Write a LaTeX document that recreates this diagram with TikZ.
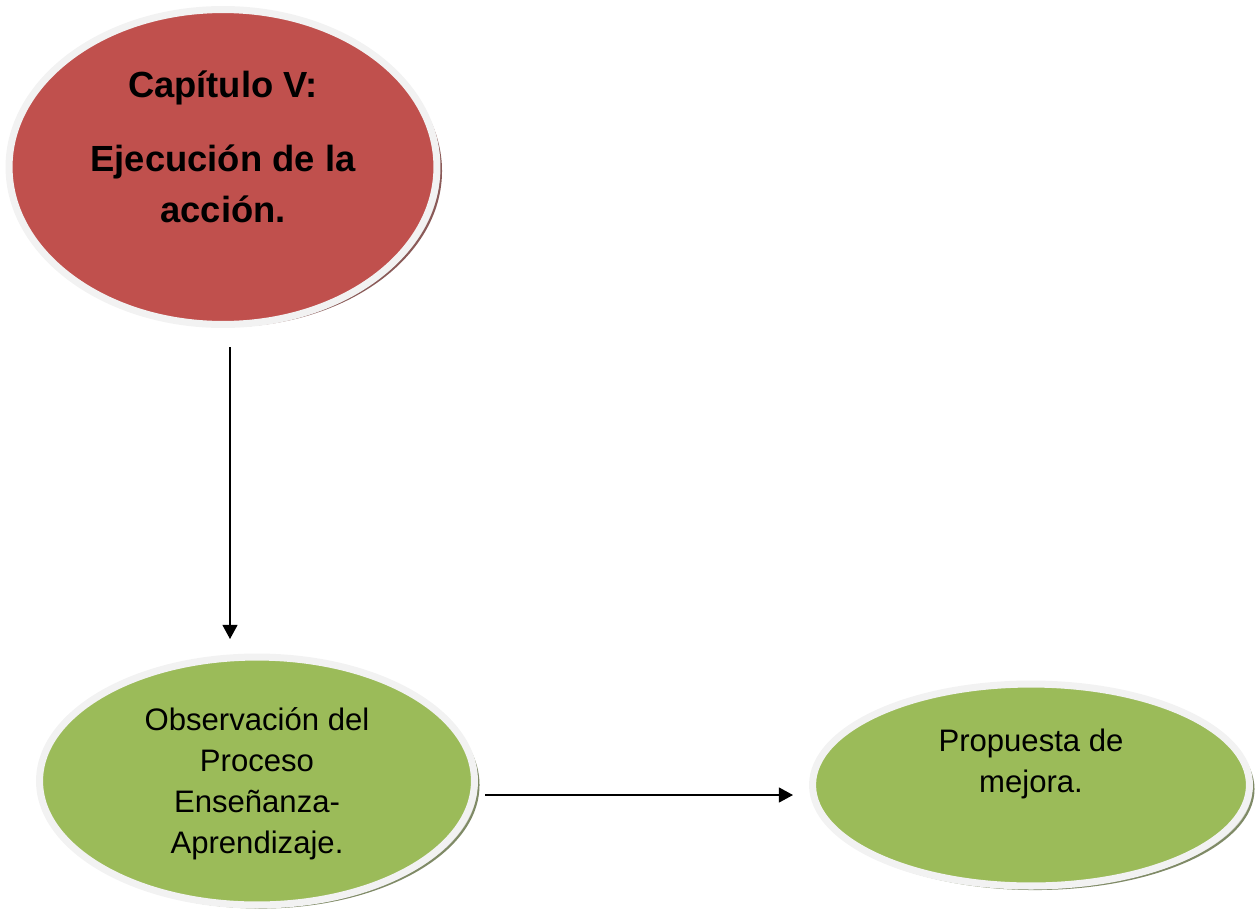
\documentclass[tikz,border=0pt]{standalone}
\usepackage{fontspec}
\setmainfont{Liberation Sans}
\usetikzlibrary{shapes.geometric,arrows.meta}
\definecolor{redfill}{HTML}{C0504D}
\definecolor{greenfill}{HTML}{9BBB59}
\definecolor{rim}{HTML}{F2F2F2}
\definecolor{redshadow}{HTML}{8A5A58}
\definecolor{greenshadow}{HTML}{7F8A66}
\tikzset{
  bubble/.style={ellipse, inner sep=0pt, draw=rim, line width=4pt},
  shadowbubble/.style={ellipse, inner sep=0pt, draw=#1, line width=1.2pt, fill=#1!40},
  redtext/.style={align=center, inner sep=0pt, font=\fontsize{20.7}{28.5}\selectfont\bfseries},
  greentext/.style={align=center, inner sep=0pt, font=\fontsize{17.7}{23.3}\selectfont},
  arrow/.style={-{Triangle[length=8pt,width=8.5pt]}, line width=0.75pt}
}
\begin{document}
\begin{tikzpicture}[x=0.02cm,y=-0.02cm]
\useasboundingbox (0,0) rectangle (1256,920);
% red ellipse
\node[shadowbubble=redshadow, minimum width=8.56cm, minimum height=6.2cm] (cap-sh) at (227,171) {};
\node[bubble, fill=redfill, minimum width=8.56cm, minimum height=6.3cm] (cap) at (223,167) {};
\node[redtext, anchor=base] (cap-t) at (223,222) {Capítulo V:\\[13.6pt]Ejecución de la\\acción.};
% green ellipse 1
\node[shadowbubble=greenshadow, minimum width=8.7cm, minimum height=4.9cm] (obs-sh) at (261,785) {};
\node[bubble, fill=greenfill, minimum width=8.7cm, minimum height=4.96cm] (obs) at (257,781) {};
\node[greentext, anchor=base] (obs-t) at (257,853) {Observación del\\Proceso\\Enseñanza-\\Aprendizaje.};
% green ellipse 2
\node[shadowbubble=greenshadow, minimum width=8.74cm, minimum height=4.0cm] (prop-sh) at (1035,789) {};
\node[bubble, fill=greenfill, minimum width=8.74cm, minimum height=4.04cm] (prop) at (1031,785) {};
\node[greentext, anchor=base] (prop-t) at (1031,792) {Propuesta de\\mejora.};
% connectors
\coordinate (a1) at (230,347);
\coordinate (a2) at (230,639);
\coordinate (b1) at (485,795);
\coordinate (b2) at (793,795);
\draw[arrow] (a1) -- (a2);
\draw[arrow] (b1) -- (b2);
\end{tikzpicture}
\end{document}
